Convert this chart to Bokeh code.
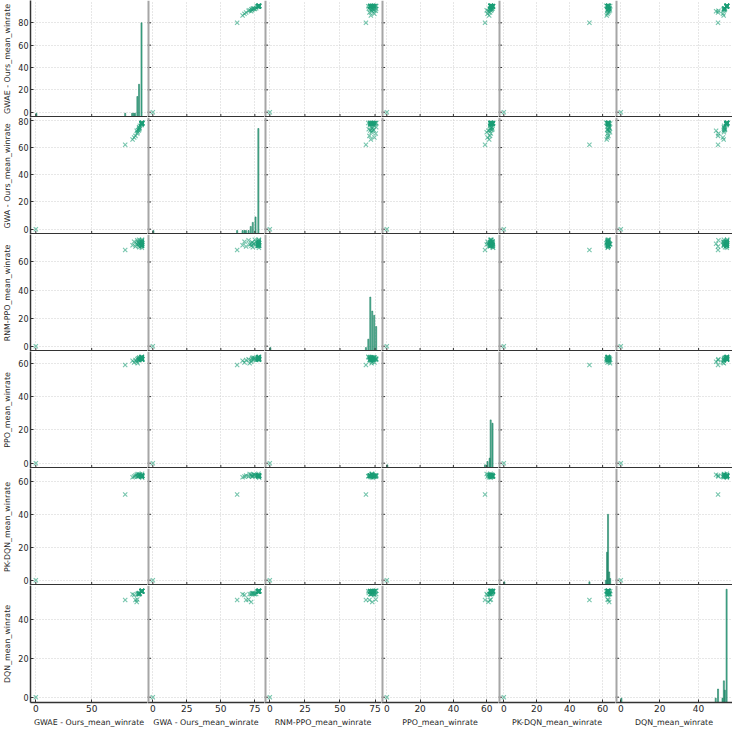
import numpy as np
from bokeh.plotting import figure
from bokeh.layouts import gridplot
from bokeh.models import Range1d, FixedTicker, Span
from bokeh.embed import file_html
from bokeh.resources import INLINE

columns = ["GWAE - Ours_mean_winrate", "GWA - Ours_mean_winrate", "RNM-PPO_mean_winrate",
           "PPO_mean_winrate", "PK-DQN_mean_winrate", "DQN_mean_winrate"]

# one row per evaluated checkpoint
gwae = [0, 80.0, 86.6, 88.0, 89.2, 90.3, 90.8, 91.2, 91.5, 92.2, 92.5, 92.7, 92.4, 92.9, 93.1,
        94.6, 94.8, 95.0, 94.7, 95.1, 94.9, 95.2, 94.8, 95.0, 94.6, 95.1, 94.9, 95.0, 94.7, 95.2,
        94.8, 95.0, 94.9, 95.1, 94.8, 95.0]
gwa = [0, 62.0, 66.0, 67.4, 68.6, 72.3, 70.4, 71.2, 73.0, 72.5, 74.0, 73.5, 75.0, 74.5, 76.0,
       76.5, 77.5, 77.8, 77.2, 78.0, 77.6, 78.2, 77.9, 77.4, 78.1, 77.7, 77.9, 78.0, 77.5, 78.2,
       77.8, 77.6, 78.0, 77.9, 77.7, 78.1]
rnm_ppo = [0, 68.5, 72.0, 74.5, 71.0, 73.0, 75.5, 72.5, 74.0, 71.6, 73.2, 70.5, 75.8, 72.8, 74.3,
           71.6, 73.0, 74.5, 71.4, 75.8, 73.1, 71.7, 74.4, 72.0, 71.5, 72.9, 74.2, 75.6, 71.8, 73.3,
           74.6, 71.6, 70.2, 73.0, 74.4, 71.9]
ppo = [0, 59.0, 61.5, 60.5, 62.0, 61.0, 62.5, 60.0, 63.0, 61.8, 62.3, 63.5, 62.8, 63.2, 62.0,
       62.4, 63.6, 62.5, 63.4, 62.2, 63.7, 62.6, 63.3, 62.4, 63.8, 62.3, 63.5, 62.7, 63.6, 62.4,
       63.4, 62.5, 63.9, 62.6, 63.5, 62.4]
pk_dqn = [0, 52.0, 62.5, 63.0, 63.5, 64.0, 63.0, 64.5, 62.8, 63.4, 64.0, 63.2, 63.8, 64.2, 63.6,
          63.3, 63.1, 63.4, 63.5, 63.2, 63.3, 63.6, 63.0, 63.4, 63.3, 64.6, 63.2, 63.5, 63.3, 62.2,
          63.4, 63.3, 63.1, 63.5, 63.3, 63.4]
dqn = [0, 50.0, 52.9, 52.5, 50.0, 49.0, 50.2, 53.0, 53.5, 53.0, 53.2, 53.6, 53.0, 53.4, 53.1,
       54.4, 54.6, 54.5, 54.3, 54.7, 54.4, 54.6, 54.5, 54.4, 54.6, 54.5, 54.3, 54.7, 54.4, 54.5,
       54.6, 54.4, 54.5, 54.6, 54.4, 54.5]
data = [gwae, gwa, rnm_ppo, ppo, pk_dqn, dqn]

# diagonal histograms: bin centres, bar tops (as read on each row's axis), bin width
hist_centers = [
    [0.5, 80.0, 86.2, 87.6, 88.8, 90.9, 92.4, 94.6],
    [0.4, 62.0, 66.0, 67.4, 68.5, 70.4, 72.0, 73.5, 75.5, 77.6],
    [0.4, 68.5, 70.2, 71.6, 73.0, 74.4, 75.8],
    [0.3, 59.0, 60.5, 61.8, 62.4, 63.5],
    [0.3, 52.0, 62.0, 62.7, 63.3, 64.0, 64.6],
    [0.3, 48.8, 50.0, 52.3, 53.0, 53.5, 54.4],
]
hist_tops = [
    [-1, -1, -1, -1, -1, 14, 25, 80],
    [-1, -1, -1, -1, -1, -1, 2, 5, 9, 74],
    [-1, -1, 5, 35, 25, 22, 14],
    [-1, -1, 1, 3, 26, 24],
    [-1, -1, 0, 17, 40, 5, 1],
    [-0.5, -0.5, 4.2, -0.5, 8.4, 3.6, 55.5],
]
hist_width = [0.95, 0.8, 0.76, 0.64, 0.65, 0.55]

y_ticks = [[0, 20, 40, 60, 80], [0, 20, 40, 60, 80], [0, 20, 40, 60],
           [0, 20, 40, 60], [0, 20, 40, 60], [0, 20, 40]]
x_ticks = [[0, 50], [0, 25, 50, 75], [0, 25, 50, 75],
           [0, 20, 40, 60], [0, 20, 40, 60], [0, 20, 40]]

COLOR = "#1b9e77"
EDGE = "#12785a"
FONT = "DejaVu Sans"
TXT = "#262626"
DARK = "#333333"
GRAY = "#a6a6a6"
n = len(columns)
FW = 117
LEFT = 28
BOTTOM = 28

ranges = []
for col in data:
    lo, hi = min(col), max(col)
    pad = 0.05 * (hi - lo)
    ranges.append((lo - pad, hi + pad))


def style_axis(ax, ticks, label, label_size, tick_size):
    ax.ticker = FixedTicker(ticks=ticks, minor_ticks=[])
    ax.major_tick_in = 3
    ax.major_tick_out = 0
    ax.minor_tick_in = 0
    ax.minor_tick_out = 0
    ax.major_tick_line_color = DARK
    ax.axis_line_color = DARK
    ax.axis_line_width = 1.5
    ax.major_label_text_font = FONT
    ax.axis_label_text_font = FONT
    ax.major_label_text_color = TXT
    ax.axis_label_text_color = TXT
    ax.axis_label_text_font_style = "normal"
    ax.axis_label = label
    ax.axis_label_text_font_size = label_size
    ax.major_label_text_font_size = tick_size
    ax.major_label_standoff = 2
    ax.axis_label_standoff = 3


grid = []
for i in range(n):
    row = []
    for j in range(n):
        left_axis = j == 0
        bottom_axis = i == n - 1
        xr, yr = ranges[j], ranges[i]
        p = figure(frame_width=FW, frame_height=FW, output_backend="svg", toolbar_location=None,
                   x_range=Range1d(*xr), y_range=Range1d(*yr),
                   x_axis_location="below" if bottom_axis else None,
                   y_axis_location="left" if left_axis else None,
                   min_border_left=LEFT if left_axis else 0, min_border_right=0,
                   min_border_top=0, min_border_bottom=BOTTOM if bottom_axis else 0,
                   background_fill_color="white", border_fill_color="white")
        p.outline_line_color = None
        # grid
        p.xgrid.ticker = FixedTicker(ticks=x_ticks[j], minor_ticks=[])
        p.ygrid.ticker = FixedTicker(ticks=y_ticks[i], minor_ticks=[])
        for g in (p.xgrid, p.ygrid):
            g.grid_line_color = "#cfcfcf"
            g.grid_line_dash = "1 2"
            g.grid_line_width = 1
        # diagonal histogram or scatter
        if i == j:
            c = np.array(hist_centers[i])
            w = hist_width[i]
            p.quad(left=c - w / 2, right=c + w / 2, bottom=yr[0], top=hist_tops[i],
                   fill_color=COLOR, fill_alpha=0.75, line_color=EDGE, line_alpha=0.9, line_width=0.6)
        else:
            p.scatter(data[j], data[i], marker="x", size=6, line_color=COLOR,
                      line_alpha=0.6, line_width=1.1)
        # spines and inward ticks
        if left_axis:
            style_axis(p.yaxis[0], y_ticks[i], columns[i], "7.9px", "8px")
        else:
            p.add_layout(Span(location=xr[0], dimension="height", line_color=GRAY, line_width=4))
            p.scatter([xr[0]] * len(y_ticks[i]), y_ticks[i], marker="dash", size=7,
                      line_color=DARK, line_width=1)
        if bottom_axis:
            style_axis(p.xaxis[0], x_ticks[j], columns[j], "7.9px", "9px")
        else:
            p.add_layout(Span(location=yr[0], dimension="width", line_color=DARK, line_width=3))
            p.scatter(x_ticks[j], [yr[0]] * len(x_ticks[j]), marker="dash", angle=np.pi / 2,
                      size=7, line_color=DARK, line_width=1)
        row.append(p)
    grid.append(row)

layout = gridplot(grid, toolbar_location=None)
open("out.html", "w").write(file_html(layout, INLINE))
